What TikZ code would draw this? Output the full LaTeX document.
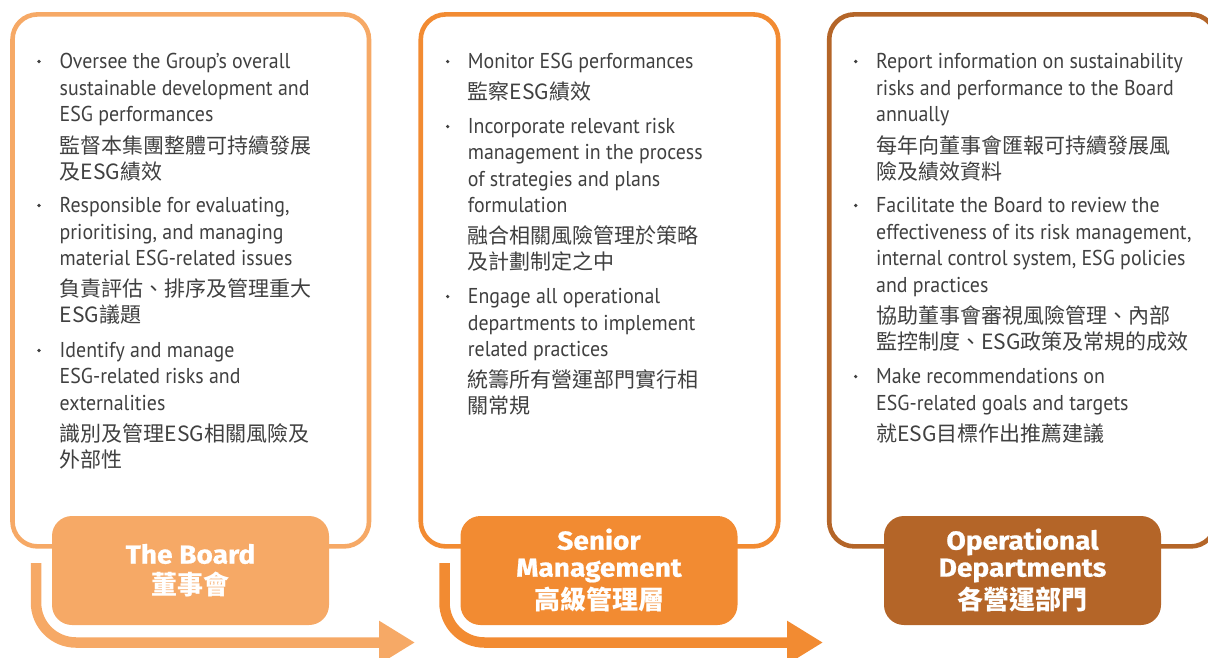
\documentclass[tikz,border=0pt]{standalone}
\usepackage{fontspec}
\setmainfont{Noto Sans CJK TC}
\newfontfamily\latinbody{PT Sans}[FakeStretch=0.925]
\newfontfamily\titlefont{Fira Sans}[FakeStretch=1.08, BoldFeatures={FakeBold=0.8}]
\newfontfamily\titlecjk{Noto Sans CJK TC}
\usetikzlibrary{arrows.meta}
\definecolor{cA}{HTML}{F6A966}
\definecolor{cB}{HTML}{F28B32}
\definecolor{cC}{HTML}{B46528}
\definecolor{txt}{HTML}{404040}
\newcommand\txtline[4]{\node[bodyline] (#1) at (#2,#3) {#4};}
\newcommand\cjkline[4]{\node[cjkbody] (#1) at (#2,#3) {#4};}
\newcommand\bulletdot[3]{\node[bulletmark] (#1) at (#2,#3) {};}
\begin{document}
\begin{tikzpicture}[x=1pt,y=-1pt,
  frame/.style={draw=#1, line width=4.6pt, rounded corners=25pt, fill=white,
    rectangle, inner sep=0pt, minimum height=532pt},
  rolebox/.style={fill=#1, rounded corners=20pt, rectangle, inner sep=0pt,
    minimum width=277pt, minimum height=109pt, text=white, align=center,
    font=\titlefont\bfseries\fontsize{26}{27}\selectfont},
  bodyline/.style={anchor=base west, inner sep=0pt, text=txt,
    font=\latinbody\fontsize{21.5}{26}\selectfont},
  cjkbody/.style={anchor=base west, inner sep=0pt, text=txt,
    font=\fontsize{21}{26}\selectfont},
  bulletmark/.style={circle, fill=txt, inner sep=0pt, minimum size=3.6pt},
  flow/.style={draw=#1, line width=10.5pt, rounded corners=40pt,
    -{Triangle[length=36pt,width=41pt,fill=#1]}}
]
\useasboundingbox (0,0) rectangle (1208,657);
\clip (0,0) rectangle (1208,657);

% frames
\node[frame=cA, minimum width=356.5pt] (box1) at (190.75,280.4) {};
\node[frame=cB, minimum width=357.5pt] (box2) at (599.5,280.4) {};
\node[frame=cC, minimum width=386.6pt] (box3) at (1022.5,280.4) {};

% flow arrows
\coordinate (a1s) at (36,563);
\coordinate (a1e) at (415,642.5);
\coordinate (a2s) at (444.5,563);
\coordinate (a2e) at (823,642.5);
\draw[flow=cA] (a1s) |- (a1e);
\draw[flow=cB] (a2s) |- (a2e);

% role boxes
\node[rolebox=cA] (board) at (190.5,570.5) {The Board\\[4pt]{\titlecjk\bfseries 董事會}};
\node[rolebox=cB] (senior) at (599,570.5) {Senior\\Management\\[4pt]{\titlecjk\bfseries 高級管理層}};
\node[rolebox=cC] (ops) at (1022.5,570.5) {Operational\\Departments\\[4pt]{\titlecjk\bfseries 各營運部門}};

% ---- Board text ----
\bulletdot{b1d1}{39}{61.5}
\txtline{b1a}{59.5}{68}{Oversee the Group’s overall}
\txtline{b1b}{59.5}{95}{sustainable development and}
\txtline{b1c}{59.5}{121.5}{ESG performances}
\cjkline{b1d}{59.5}{153}{監督本集團整體可持續發展}
\cjkline{b1e}{59.5}{179}{及ESG績效}
\bulletdot{b1d2}{39}{205.5}
\txtline{b1f}{59.5}{212}{Responsible for evaluating,}
\txtline{b1g}{59.5}{239}{prioritising, and managing}
\txtline{b1h}{59.5}{265.5}{material ESG-related issues}
\cjkline{b1i}{59.5}{296}{負責評估、排序及管理重大}
\cjkline{b1j}{59.5}{322}{ESG議題}
\bulletdot{b1d3}{39}{350.5}
\txtline{b1k}{59.5}{357}{Identify and manage}
\txtline{b1l}{59.5}{383.5}{ESG-related risks and}
\txtline{b1m}{59.5}{410}{externalities}
\cjkline{b1n}{59.5}{441.5}{識別及管理ESG相關風險及}
\cjkline{b1o}{59.5}{467.5}{外部性}

% ---- Senior management text ----
\bulletdot{b2d1}{447.7}{61.5}
\txtline{b2a}{467.7}{68}{Monitor ESG performances}
\cjkline{b2b}{467.7}{99}{監察ESG績效}
\bulletdot{b2d2}{447.7}{126.5}
\txtline{b2c}{467.7}{133}{Incorporate relevant risk}
\txtline{b2d}{467.7}{159.5}{management in the process}
\txtline{b2e}{467.7}{186}{of strategies and plans}
\txtline{b2f}{467.7}{212.5}{formulation}
\cjkline{b2g}{467.7}{243}{融合相關風險管理於策略}
\cjkline{b2h}{467.7}{269}{及計劃制定之中}
\bulletdot{b2d3}{447.7}{296.5}
\txtline{b2i}{467.7}{303}{Engage all operational}
\txtline{b2j}{467.7}{330}{departments to implement}
\txtline{b2k}{467.7}{356.5}{related practices}
\cjkline{b2l}{467.7}{387}{統籌所有營運部門實行相}
\cjkline{b2m}{467.7}{413}{關常規}

% ---- Operational departments text ----
\bulletdot{b3d1}{855.7}{61.5}
\txtline{b3a}{876}{68}{Report information on sustainability}
\txtline{b3b}{876}{95}{risks and performance to the Board}
\txtline{b3c}{876}{121.5}{annually}
\cjkline{b3d}{876}{153}{每年向董事會匯報可持續發展風}
\cjkline{b3e}{876}{179}{險及績效資料}
\bulletdot{b3d2}{855.7}{205.5}
\txtline{b3f}{876}{212}{Facilitate the Board to review the}
\txtline{b3g}{876}{239}{effectiveness of its risk management,}
\txtline{b3h}{876}{265.5}{internal control system, ESG policies}
\txtline{b3i}{876}{292}{and practices}
\cjkline{b3j}{876}{323}{協助董事會審視風險管理、內部}
\cjkline{b3k}{876}{349.5}{監控制度、ESG政策及常規的成效}
\bulletdot{b3d3}{855.7}{376.5}
\txtline{b3l}{876}{383}{Make recommendations on}
\txtline{b3m}{876}{410}{ESG-related goals and targets}
\cjkline{b3n}{876}{441.5}{就ESG目標作出推薦建議}
\end{tikzpicture}
\end{document}
